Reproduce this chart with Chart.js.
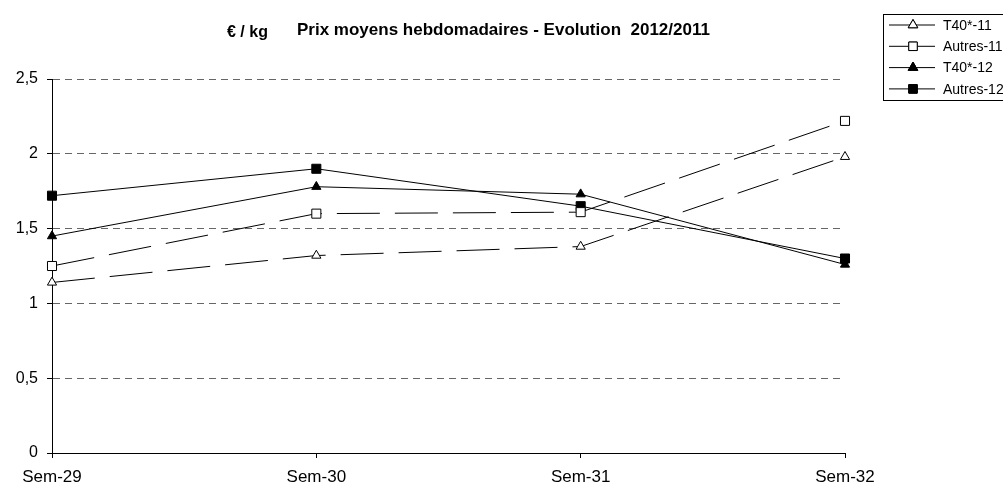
<!DOCTYPE html>
<html>
<head>
<meta charset="utf-8">
<script src="https://cdn.jsdelivr.net/npm/chart.js@4/dist/chart.umd.min.js"></script>
<style>
  html, body { margin: 0; padding: 0; background: #fff; }
  canvas { display: block; }
</style>
</head>
<body>
<canvas id="prixChart" width="1003" height="486"></canvas>
<script>
// ----------------------------------------------------------------------
// data
// ----------------------------------------------------------------------
const WEEKS = ['Sem-29', 'Sem-30', 'Sem-31', 'Sem-32'];

const T40_11    = [1.14, 1.32, 1.38, 1.98];
const AUTRES_11 = [1.25, 1.60, 1.61, 2.22];
const T40_12    = [1.45, 1.78, 1.73, 1.26];
const AUTRES_12 = [1.72, 1.90, 1.65, 1.30];

const Y_TICKS = ['0', '0,5', '1', '1,5', '2', '2,5'];

const FONT = 'Arial, "Liberation Sans", sans-serif';
const LONG_DASH = [43, 15];

function series(label, data, style, filled, dashed) {
  return {
    label: label,
    data: data,
    borderColor: '#000',
    borderWidth: 1,
    borderDash: dashed ? LONG_DASH : [],
    pointStyle: style,
    pointRadius: style === 'rect' ? 6.4 : 5.3,
    pointBackgroundColor: filled ? '#000' : '#fff',
    pointBorderColor: '#000',
    pointBorderWidth: 1,
    tension: 0,
    fill: false
  };
}

const datasets = [
  series('T40*-11', T40_11, 'triangle', false, true),
  series('Autres-11', AUTRES_11, 'rect', false, true),
  series('T40*-12', T40_12, 'triangle', true, false),
  series('Autres-12', AUTRES_12, 'rect', true, false)
];

// ----------------------------------------------------------------------
// titles + boxed legend on the right
// ----------------------------------------------------------------------
const decorPlugin = {
  id: 'decor',
  afterDraw(chart) {
    const ctx = chart.ctx;
    ctx.save();
    ctx.fillStyle = '#000';
    ctx.textAlign = 'left';
    ctx.textBaseline = 'alphabetic';

    ctx.font = 'bold 16px ' + FONT;
    ctx.fillText('€ / kg', 227, 37);

    ctx.font = 'bold 17px ' + FONT;
    ctx.fillText('Prix moyens hebdomadaires - Evolution  2012/2011', 297, 35);

    // legend
    const bx = 883, by = 14, bw = 125, bh = 86;
    ctx.strokeStyle = '#000';
    ctx.lineWidth = 1;
    ctx.strokeRect(bx + 0.5, by + 0.5, bw, bh);

    ctx.font = '14px ' + FONT;
    ctx.textBaseline = 'middle';
    chart.data.datasets.forEach((ds, i) => {
      const y = by + 11 + i * 21.3;
      ctx.beginPath();
      ctx.moveTo(889, y);
      ctx.lineTo(935, y);
      ctx.stroke();
      ctx.fillStyle = ds.pointBackgroundColor;
      Chart.helpers.drawPoint(ctx, {
        pointStyle: ds.pointStyle,
        radius: ds.pointStyle === 'rect' ? 6 : 5.5,
        borderWidth: 1,
        rotation: 0
      }, 913, y);
      ctx.fill();
      ctx.stroke();
      ctx.fillStyle = '#000';
      ctx.fillText(ds.label, 943, y + 1);
    });
    ctx.restore();
  }
};

// ----------------------------------------------------------------------
// chart
// ----------------------------------------------------------------------
const ctx = document.getElementById('prixChart').getContext('2d');

new Chart(ctx, {
  type: 'line',
  data: { labels: WEEKS, datasets: datasets },
  options: {
    responsive: false,
    animation: false,
    layout: { padding: { left: 0, right: 158, top: 79, bottom: 0 } },
    scales: {
      x: {
        offset: false,
        grid: { display: true, drawOnChartArea: false, drawTicks: true, tickLength: 5, color: '#000' },
        border: { display: true, color: '#000', width: 1 },
        ticks: { color: '#000', font: { family: FONT, size: 17 }, padding: 9, maxRotation: 0, autoSkip: false },
        afterFit(scale) { scale.height = 33; }
      },
      y: {
        min: 0,
        max: 2.5,
        grid: { color: '#666', tickColor: '#000', tickLength: 5, tickBorderDash: [] },
        border: { display: true, color: '#000', width: 1, dash: [7, 5] },
        ticks: {
          stepSize: 0.5,
          color: '#000',
          padding: 9,
          font: { family: FONT, size: 16 },
          callback: (v, i) => Y_TICKS[i]
        },
        afterFit(scale) { scale.width = 52; }
      }
    },
    plugins: {
      legend: { display: false },
      title: { display: false },
      tooltip: { enabled: false }
    }
  },
  plugins: [decorPlugin]
});
</script>
</body>
</html>
